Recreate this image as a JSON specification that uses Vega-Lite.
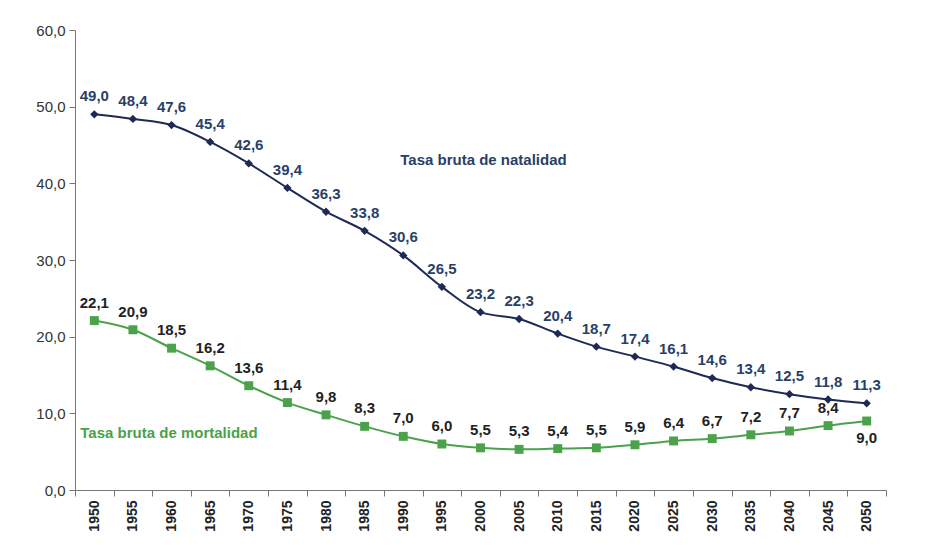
{
  "$schema": "https://vega.github.io/schema/vega-lite/v6.json",
  "width": 811,
  "height": 460,
  "autosize": {"type": "none"},
  "padding": {"left": 75, "top": 30, "right": 48, "bottom": 55},
  "background": "#ffffff",
  "config": {
    "locale": {"number": {"decimal": ",", "thousands": ".", "grouping": [3], "currency": ["", " €"]}},
    "view": {"stroke": null},
    "font": "Liberation Sans Narrow, Arial Narrow, Liberation Sans, sans-serif"
  },
  "datasets": {
    "tasas": [
      {"year": "1950", "serie": "natalidad", "value": 49.0},
      {"year": "1955", "serie": "natalidad", "value": 48.4},
      {"year": "1960", "serie": "natalidad", "value": 47.6},
      {"year": "1965", "serie": "natalidad", "value": 45.4},
      {"year": "1970", "serie": "natalidad", "value": 42.6},
      {"year": "1975", "serie": "natalidad", "value": 39.4},
      {"year": "1980", "serie": "natalidad", "value": 36.3},
      {"year": "1985", "serie": "natalidad", "value": 33.8},
      {"year": "1990", "serie": "natalidad", "value": 30.6},
      {"year": "1995", "serie": "natalidad", "value": 26.5},
      {"year": "2000", "serie": "natalidad", "value": 23.2},
      {"year": "2005", "serie": "natalidad", "value": 22.3},
      {"year": "2010", "serie": "natalidad", "value": 20.4},
      {"year": "2015", "serie": "natalidad", "value": 18.7},
      {"year": "2020", "serie": "natalidad", "value": 17.4},
      {"year": "2025", "serie": "natalidad", "value": 16.1},
      {"year": "2030", "serie": "natalidad", "value": 14.6},
      {"year": "2035", "serie": "natalidad", "value": 13.4},
      {"year": "2040", "serie": "natalidad", "value": 12.5},
      {"year": "2045", "serie": "natalidad", "value": 11.8},
      {"year": "2050", "serie": "natalidad", "value": 11.3},
      {"year": "1950", "serie": "mortalidad", "value": 22.1},
      {"year": "1955", "serie": "mortalidad", "value": 20.9},
      {"year": "1960", "serie": "mortalidad", "value": 18.5},
      {"year": "1965", "serie": "mortalidad", "value": 16.2},
      {"year": "1970", "serie": "mortalidad", "value": 13.6},
      {"year": "1975", "serie": "mortalidad", "value": 11.4},
      {"year": "1980", "serie": "mortalidad", "value": 9.8},
      {"year": "1985", "serie": "mortalidad", "value": 8.3},
      {"year": "1990", "serie": "mortalidad", "value": 7.0},
      {"year": "1995", "serie": "mortalidad", "value": 6.0},
      {"year": "2000", "serie": "mortalidad", "value": 5.5},
      {"year": "2005", "serie": "mortalidad", "value": 5.3},
      {"year": "2010", "serie": "mortalidad", "value": 5.4},
      {"year": "2015", "serie": "mortalidad", "value": 5.5},
      {"year": "2020", "serie": "mortalidad", "value": 5.9},
      {"year": "2025", "serie": "mortalidad", "value": 6.4},
      {"year": "2030", "serie": "mortalidad", "value": 6.7},
      {"year": "2035", "serie": "mortalidad", "value": 7.2},
      {"year": "2040", "serie": "mortalidad", "value": 7.7},
      {"year": "2045", "serie": "mortalidad", "value": 8.4},
      {"year": "2050", "serie": "mortalidad", "value": 9.0}
    ],
    "rotulos": [
      {"year": "1990", "value": 43.0, "texto": "Tasa bruta de natalidad", "serie": "natalidad"},
      {"year": "1950", "value": 7.4, "texto": "Tasa bruta de mortalidad", "serie": "mortalidad"}
    ]
  },
  "data": {"name": "tasas"},
  "encoding": {
    "x": {
      "field": "year", "type": "ordinal", "title": null,
      "scale": {"paddingInner": 0, "paddingOuter": 0},
      "axis": {
        "labelAngle": -90, "labelFontWeight": "bold", "labelFontSize": 14, "labelColor": "#222222",
        "tickBand": "extent", "domainColor": "#777777", "tickColor": "#777777", "tickSize": 6,
        "labelPadding": 4, "labelBaseline": "middle", "labelAlign": "right"
      }
    },
    "y": {
      "field": "value", "type": "quantitative", "title": null,
      "scale": {"domain": [0, 60], "nice": false},
      "axis": {
        "values": [0, 10, 20, 30, 40, 50, 60], "format": ".1f", "grid": false,
        "labelFontSize": 15, "labelColor": "#333333", "domainColor": "#777777",
        "tickColor": "#777777", "tickSize": 6, "labelPadding": 4
      }
    }
  },
  "layer": [
    {
      "transform": [{"filter": "datum.serie === 'natalidad'"}],
      "mark": {"type": "line", "color": "#1e2a55", "strokeWidth": 2, "interpolate": "monotone",
               "point": {"shape": "diamond", "size": 70, "filled": true, "color": "#1e2a55"}}
    },
    {
      "transform": [{"filter": "datum.serie === 'mortalidad'"}],
      "mark": {"type": "line", "color": "#4aa24a", "strokeWidth": 2, "interpolate": "monotone",
               "point": {"shape": "square", "size": 80, "filled": true, "color": "#4aa24a"}}
    },
    {
      "transform": [{"filter": "datum.serie === 'natalidad'"}],
      "mark": {"type": "text", "dy": -18, "fontSize": 15, "fontWeight": "bold", "color": "#2a3f68"},
      "encoding": {"text": {"field": "value", "type": "quantitative", "format": ".1f"}}
    },
    {
      "transform": [{"filter": "datum.serie === 'mortalidad' && datum.year !== '2050'"}],
      "mark": {"type": "text", "dy": -18, "fontSize": 15, "fontWeight": "bold", "color": "#222222"},
      "encoding": {"text": {"field": "value", "type": "quantitative", "format": ".1f"}}
    },
    {
      "transform": [{"filter": "datum.serie === 'mortalidad' && datum.year === '2050'"}],
      "mark": {"type": "text", "dy": 17, "fontSize": 15, "fontWeight": "bold", "color": "#222222"},
      "encoding": {"text": {"field": "value", "type": "quantitative", "format": ".1f"}}
    },
    {
      "data": {"name": "rotulos"},
      "transform": [{"filter": "datum.serie === 'natalidad'"}],
      "mark": {"type": "text", "align": "left", "baseline": "middle", "fontSize": 15, "fontWeight": "bold", "dx": -3, "color": "#2a3f68"},
      "encoding": {"text": {"field": "texto"}}
    },
    {
      "data": {"name": "rotulos"},
      "transform": [{"filter": "datum.serie === 'mortalidad'"}],
      "mark": {"type": "text", "align": "left", "baseline": "middle", "fontSize": 15, "fontWeight": "bold", "dx": -14, "color": "#4aa24a"},
      "encoding": {"text": {"field": "texto"}}
    }
  ]
}
